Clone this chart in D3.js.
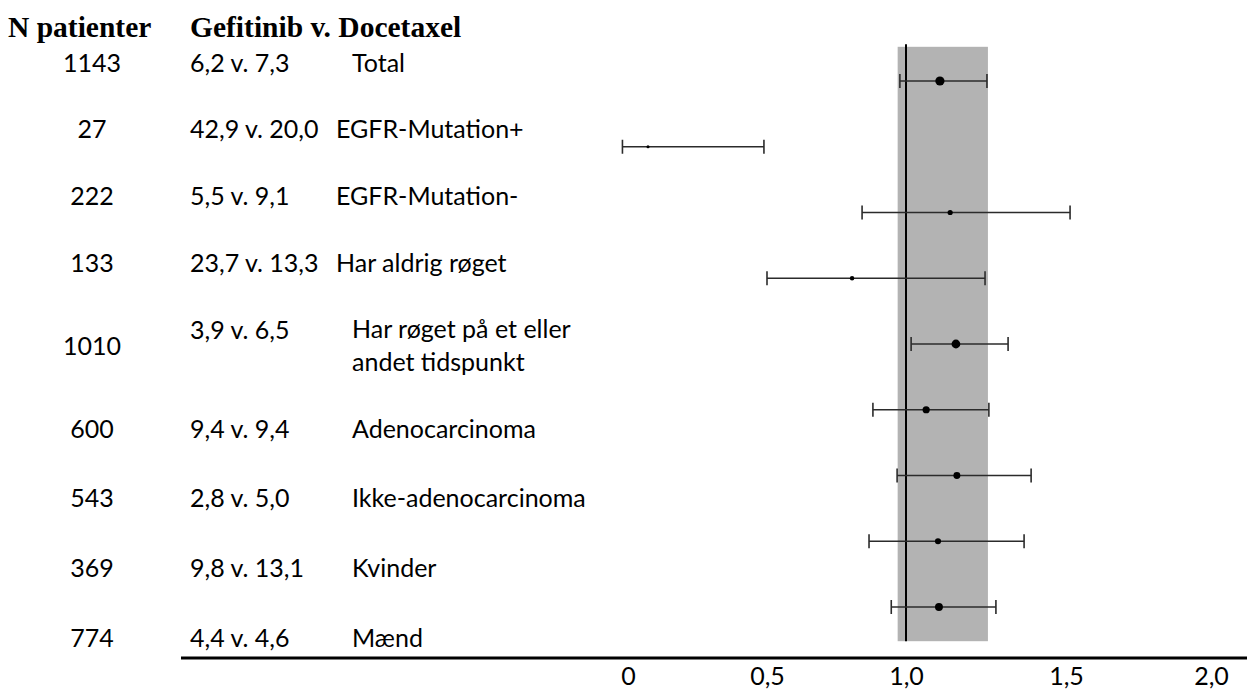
<!DOCTYPE html>
<html>
<head>
<meta charset="utf-8">
<script src="https://cdn.jsdelivr.net/npm/d3@7"></script>
<style>
  body { margin: 0; background: #fff; }
  svg text { fill: #000; }
</style>
</head>
<body>
<svg id="chart"></svg>
<script>
// subgroups (two-line label split into lines)
var groupLabels = [
    ["Total"],
    ["EGFR-Mutation+"],
    ["EGFR-Mutation-"],
    ["Har aldrig røget"],
    ["Har røget på et eller", "andet tidspunkt"],
    ["Adenocarcinoma"],
    ["Ikke-adenocarcinoma"],
    ["Kvinder"],
    ["Mænd"]
];
var nPatients = [1143, 27, 222, 133, 1010, 600, 543, 369, 774];
var survival = ["6,2 v. 7,3", "42,9 v. 20,0", "5,5 v. 9,1", "23,7 v. 13,3", "3,9 v. 6,5",
                "9,4 v. 9,4", "2,8 v. 5,0", "9,8 v. 13,1", "4,4 v. 4,6"];

// hazard ratios with confidence intervals
var hr     = [1.106, 0.072, 1.138, 0.806, 1.156, 1.063, 1.159, 1.100, 1.103];
var ciLow  = [0.978, -0.02, 0.842, 0.500, 1.016, 0.881, 0.968, 0.867, 0.947];
var ciHigh = [1.253, 0.489, 1.514, 1.247, 1.319, 1.259, 1.391, 1.369, 1.281];

// shaded band (total CI)
var band = [0.97, 1.256];

var tickValues = [0, 0.5, 1, 1.5, 2];
var tickLabels = ["0", "0,5", "1,0", "1,5", "2,0"];

var headers = ["N patienter", "Gefitinib v. Docetaxel"];

var w = 1247;
var h = 690;
var sansFont = "Lato, 'Open Sans', sans-serif";
var fontSize = 25;

// label column start: a few rows in the original sit a little further left
var labelX = [352, 336, 336, 336, 352, 352, 352, 352, 352];

var rows = d3.range(groupLabels.length);

var svg = d3.select("#chart")
            .attr("width", w)
            .attr("height", h);

// x scale follows the (uneven) tick spacing of the original
var xScale = d3.scaleLinear()
                .domain(tickValues)
                .range([628, 767, 906, 1066, 1211]);

// y for the CI markers and for the text rows
var yMark = d3.scaleLinear()
                .domain([0, rows.length - 1])
                .range([81, 607]);

var yText = d3.scaleLinear()
                .domain([0, 3, 5, 8])
                .range([63, 263, 429, 638]);

var rScale = d3.scaleSqrt()
                .domain([0, d3.max(nPatients)])
                .range([1, 4.6]);

// grey band
svg.append("rect")
    .attr("x", xScale(band[0]))
    .attr("y", yMark(-0.52))
    .attr("width", xScale(band[1]) - xScale(band[0]))
    .attr("height", yMark(8.52) - yMark(-0.52))
    .attr("fill", "#b3b3b3");

// reference line at 1
svg.append("line")
    .attr("x1", xScale(1)).attr("x2", xScale(1))
    .attr("y1", yMark(-0.56)).attr("y2", yMark(8.52))
    .attr("stroke", "#000")
    .attr("stroke-width", 2);

// headers
svg.selectAll("text.header")
    .data(headers)
    .enter()
    .append("text")
    .attr("class", "header")
    .attr("x", function(d, i) { return i === 0 ? 8 : 190; })
    .attr("y", 37)
    .attr("font-family", "'Liberation Serif', 'Times New Roman', serif")
    .attr("font-weight", "bold")
    .attr("font-size", 29.5)
    .text(function(d) { return d; });

// N column
svg.selectAll("text.n")
    .data(rows)
    .enter()
    .append("text")
    .attr("class", "n")
    .attr("x", 92)
    .attr("y", function(i) { return yText(i); })
    .attr("dy", "0.35em")
    .attr("text-anchor", "middle")
    .attr("font-family", sansFont)
    .attr("font-size", fontSize)
    .text(function(i) { return nPatients[i]; });

// median survival column (first line when label wraps)
svg.selectAll("text.surv")
    .data(rows)
    .enter()
    .append("text")
    .attr("class", "surv")
    .attr("x", 190)
    .attr("y", function(i) { return yText(i) - (groupLabels[i].length - 1) * 16; })
    .attr("dy", "0.35em")
    .attr("font-family", sansFont)
    .attr("font-size", fontSize)
    .text(function(i) { return survival[i]; });

// subgroup labels
var lab = svg.selectAll("text.label")
    .data(rows)
    .enter()
    .append("text")
    .attr("class", "label")
    .attr("font-family", sansFont)
    .attr("font-size", fontSize);

lab.selectAll("tspan")
    .data(function(i) {
        return groupLabels[i].map(function(t, j) {
            return {t: t, x: labelX[i], y: yText(i) + (j - (groupLabels[i].length - 1) / 2) * 33};
        });
    })
    .enter()
    .append("tspan")
    .attr("x", function(d) { return d.x; })
    .attr("y", function(d) { return d.y; })
    .attr("dy", "0.35em")
    .text(function(d) { return d.t; });

// CI lines
var ci = svg.selectAll("g.ci")
    .data(rows)
    .enter()
    .append("g")
    .attr("class", "ci")
    .attr("stroke", "#2b2b2b")
    .attr("stroke-width", 1.6);

ci.append("line")
    .attr("x1", function(i) { return xScale(ciLow[i]); })
    .attr("x2", function(i) { return xScale(ciHigh[i]); })
    .attr("y1", function(i) { return yMark(i); })
    .attr("y2", function(i) { return yMark(i); });

ci.selectAll("line.cap")
    .data(function(i) { return [[ciLow[i], i], [ciHigh[i], i]]; })
    .enter()
    .append("line")
    .attr("class", "cap")
    .attr("x1", function(d) { return xScale(d[0]); })
    .attr("x2", function(d) { return xScale(d[0]); })
    .attr("y1", function(d) { return yMark(d[1]) - 7; })
    .attr("y2", function(d) { return yMark(d[1]) + 7; });

// point estimates
svg.selectAll("circle")
    .data(rows)
    .enter()
    .append("circle")
    .attr("cx", function(i) { return xScale(hr[i]); })
    .attr("cy", function(i) { return yMark(i); })
    .attr("r", function(i) { return rScale(nPatients[i]); })
    .attr("fill", "#000");

// x axis
var xAxis = d3.axisBottom(xScale)
                .tickValues(tickValues)
                .tickSize(0)
                .tickPadding(9)
                .tickFormat(function(d, i) { return tickLabels[i]; });

var gAxis = svg.append("g")
    .attr("transform", "translate(0,658)")
    .call(xAxis);

gAxis.select(".domain").remove();
gAxis.selectAll("text")
    .attr("font-family", sansFont)
    .attr("font-size", fontSize)
    .attr("fill", "#000");

svg.append("line")
    .attr("x1", 181).attr("x2", w)
    .attr("y1", 658).attr("y2", 658)
    .attr("stroke", "#000")
    .attr("stroke-width", 3);
</script>
</body>
</html>
